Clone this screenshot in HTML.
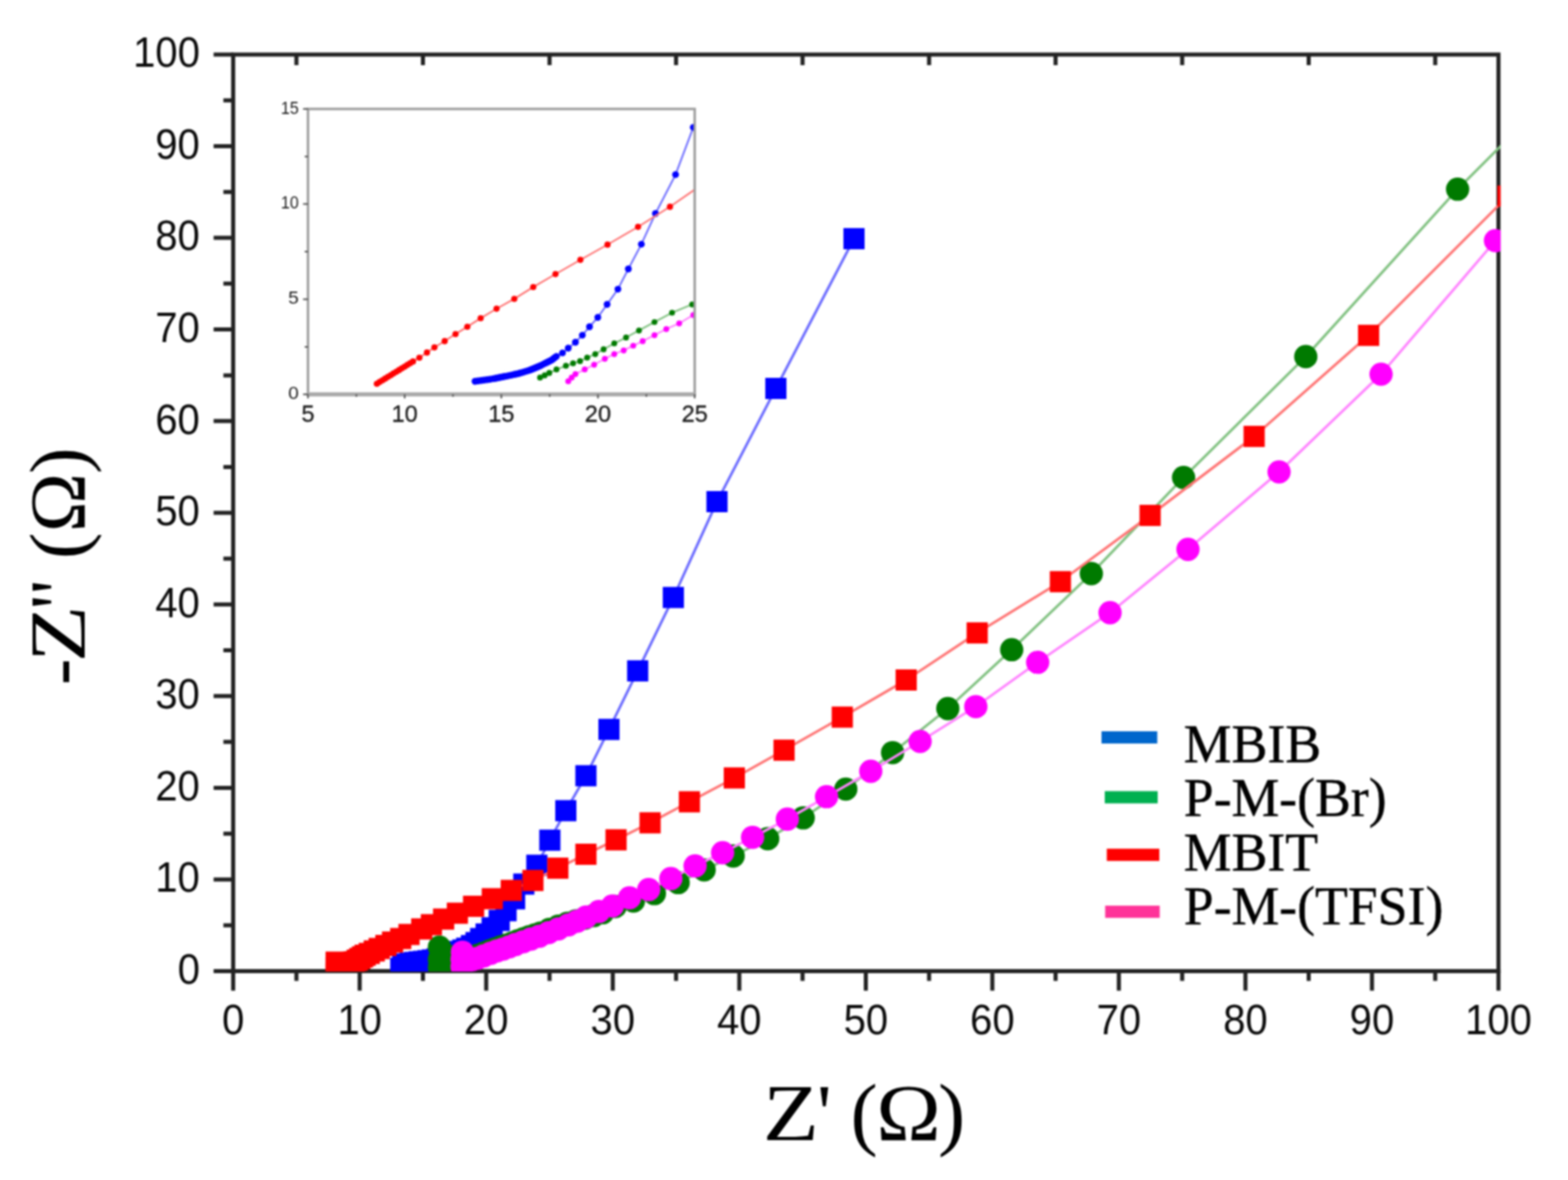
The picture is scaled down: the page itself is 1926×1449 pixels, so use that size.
<!DOCTYPE html>
<html><head><meta charset="utf-8"><title>Nyquist plot</title>
<style>
html,body{margin:0;padding:0;background:#fff;}
body{width:1926px;height:1449px;overflow:hidden;}
svg{display:block;filter:blur(1.25px);}
.tk{font-family:"Liberation Sans",Arial,sans-serif;fill:#0a0a0a;}
.ser{font-family:"Liberation Serif","Times New Roman",serif;fill:#000;}
.itk{font-family:"Liberation Sans",Arial,sans-serif;fill:#1c1c1c;}
</style></head><body>
<svg width="1926" height="1449" viewBox="0 0 1926 1449">
<defs>
<clipPath id="cm"><rect x="286.4" y="66.9" width="1556.8" height="1126.2"/></clipPath>
<clipPath id="ci"><rect x="378.3" y="133.8" width="475" height="350.6"/></clipPath>
</defs>
<rect width="1926" height="1449" fill="#fff"/>
<g stroke="#222222" stroke-width="5.0" fill="none" stroke-linecap="butt"><path d="M283.9 66.9H1840.6V1195"/><path d="M286.4 66.9V1192.5H1843.1"/><path d="M286.4 1192.5V1216.5M364.1 1192.5V1204.5M441.8 1192.5V1216.5M519.5 1192.5V1204.5M597.2 1192.5V1216.5M675 1192.5V1204.5M752.7 1192.5V1216.5M830.4 1192.5V1204.5M908.1 1192.5V1216.5M985.8 1192.5V1204.5M1063.5 1192.5V1216.5M1141.2 1192.5V1204.5M1218.9 1192.5V1216.5M1296.6 1192.5V1204.5M1374.3 1192.5V1216.5M1452.1 1192.5V1204.5M1529.8 1192.5V1216.5M1607.5 1192.5V1204.5M1685.2 1192.5V1216.5M1762.9 1192.5V1204.5M1840.6 1192.5V1216.5M286.4 1192.5H262.4M286.4 1136.2H274.4M286.4 1079.9H262.4M286.4 1023.7H274.4M286.4 967.4H262.4M286.4 911.1H274.4M286.4 854.8H262.4M286.4 798.5H274.4M286.4 742.3H262.4M286.4 686H274.4M286.4 629.7H262.4M286.4 573.4H274.4M286.4 517.1H262.4M286.4 460.9H274.4M286.4 404.6H262.4M286.4 348.3H274.4M286.4 292H262.4M286.4 235.7H274.4M286.4 179.5H262.4M286.4 123.2H274.4M286.4 66.9H262.4M364.1 66.9V79.9M519.5 66.9V79.9M675 66.9V79.9M830.4 66.9V79.9M985.8 66.9V79.9M1141.2 66.9V79.9M1296.6 66.9V79.9M1452.1 66.9V79.9M1607.5 66.9V79.9M1762.9 66.9V79.9"/></g><g clip-path="url(#cm)"><polyline points="492.3,1189.1 494.7,1185.5 498.5,1183.7 504,1182.6 509.4,1181.8 514.9,1181.1 520.3,1180.5 525.7,1179.7 531.2,1178.8 536.6,1177.6 542.1,1176.3 547.5,1174.7 552.9,1172.9 558.4,1170.8 563.8,1168.4 568.6,1166.6 573.3,1164.4 579.1,1161.2 584.7,1157.5 590.4,1152.5 597.1,1146.9 604.5,1139.3 613.2,1130.3 621.6,1118.3 632.1,1103.7 643.4,1085.6 659.4,1062.5 675.4,1031.7 695,995.5 719.7,952.6 748,895.7 783.3,823.8 827.1,733.7 880.7,616 953,477 1049,293.1" fill="none" stroke="#6b6bff" stroke-width="3.2" stroke-linejoin="round"/><g fill="#0000ff"><rect x="479.3" y="1176.1" width="26" height="26"/><rect x="481.7" y="1172.5" width="26" height="26"/><rect x="485.5" y="1170.7" width="26" height="26"/><rect x="491" y="1169.6" width="26" height="26"/><rect x="496.4" y="1168.8" width="26" height="26"/><rect x="501.9" y="1168.1" width="26" height="26"/><rect x="507.3" y="1167.5" width="26" height="26"/><rect x="512.7" y="1166.7" width="26" height="26"/><rect x="518.2" y="1165.8" width="26" height="26"/><rect x="523.6" y="1164.6" width="26" height="26"/><rect x="529.1" y="1163.3" width="26" height="26"/><rect x="534.5" y="1161.7" width="26" height="26"/><rect x="539.9" y="1159.9" width="26" height="26"/><rect x="545.4" y="1157.8" width="26" height="26"/><rect x="550.8" y="1155.4" width="26" height="26"/><rect x="555.6" y="1153.6" width="26" height="26"/><rect x="560.3" y="1151.4" width="26" height="26"/><rect x="566.1" y="1148.2" width="26" height="26"/><rect x="571.7" y="1144.5" width="26" height="26"/><rect x="577.4" y="1139.5" width="26" height="26"/><rect x="584.1" y="1133.9" width="26" height="26"/><rect x="591.5" y="1126.3" width="26" height="26"/><rect x="600.2" y="1117.3" width="26" height="26"/><rect x="608.6" y="1105.3" width="26" height="26"/><rect x="619.1" y="1090.7" width="26" height="26"/><rect x="630.4" y="1072.6" width="26" height="26"/><rect x="646.4" y="1049.5" width="26" height="26"/><rect x="662.4" y="1018.7" width="26" height="26"/><rect x="682" y="982.5" width="26" height="26"/><rect x="706.7" y="939.6" width="26" height="26"/><rect x="735" y="882.7" width="26" height="26"/><rect x="770.3" y="810.8" width="26" height="26"/><rect x="814.1" y="720.7" width="26" height="26"/><rect x="867.7" y="603" width="26" height="26"/><rect x="940" y="464" width="26" height="26"/><rect x="1036" y="280.1" width="26" height="26"/></g><polyline points="539.7,1198.1 539.7,1188 539.7,1177.9 539.7,1163 546.7,1172.8 552.2,1175.1 559.2,1174.5 566.2,1174 573.1,1173.5 580.1,1175.1 587.1,1173.1 594.1,1170.6 601.1,1167.8 608.1,1165.2 615.1,1162.9 622.1,1160.6 629.1,1158 636.1,1155.4 643.1,1152.9 650.1,1150.4 657.1,1148.1 664.1,1145.7 674.9,1141.4 685.8,1137.3 696.7,1133.8 707.6,1130.9 718.5,1127.5 729.3,1124.3 740.2,1120.8 755.8,1113.1 778.1,1106.5 803.8,1097.3 833,1083.8 864.9,1068.2 900.6,1051.1 943,1029.9 986.6,1004.3 1038.9,969 1096.4,924.2 1164.2,870.1 1242.7,797.8 1340.5,704.4 1453.8,586.3 1603.9,437.9 1790.4,232.3 1902.8,119.8" fill="none" stroke="#82c282" stroke-width="3.2" stroke-linejoin="round"/><g fill="#007a00"><circle cx="539.7" cy="1198.1" r="14.3"/><circle cx="539.7" cy="1188" r="14.3"/><circle cx="539.7" cy="1177.9" r="14.3"/><circle cx="539.7" cy="1163" r="14.3"/><circle cx="546.7" cy="1172.8" r="14.3"/><circle cx="552.2" cy="1175.1" r="14.3"/><circle cx="559.2" cy="1174.5" r="14.3"/><circle cx="566.2" cy="1174" r="14.3"/><circle cx="573.1" cy="1173.5" r="14.3"/><circle cx="580.1" cy="1175.1" r="14.3"/><circle cx="587.1" cy="1173.1" r="14.3"/><circle cx="594.1" cy="1170.6" r="14.3"/><circle cx="601.1" cy="1167.8" r="14.3"/><circle cx="608.1" cy="1165.2" r="14.3"/><circle cx="615.1" cy="1162.9" r="14.3"/><circle cx="622.1" cy="1160.6" r="14.3"/><circle cx="629.1" cy="1158" r="14.3"/><circle cx="636.1" cy="1155.4" r="14.3"/><circle cx="643.1" cy="1152.9" r="14.3"/><circle cx="650.1" cy="1150.4" r="14.3"/><circle cx="657.1" cy="1148.1" r="14.3"/><circle cx="664.1" cy="1145.7" r="14.3"/><circle cx="674.9" cy="1141.4" r="14.3"/><circle cx="685.8" cy="1137.3" r="14.3"/><circle cx="696.7" cy="1133.8" r="14.3"/><circle cx="707.6" cy="1130.9" r="14.3"/><circle cx="718.5" cy="1127.5" r="14.3"/><circle cx="729.3" cy="1124.3" r="14.3"/><circle cx="740.2" cy="1120.8" r="14.3"/><circle cx="755.8" cy="1113.1" r="14.3"/><circle cx="778.1" cy="1106.5" r="14.3"/><circle cx="803.8" cy="1097.3" r="14.3"/><circle cx="833" cy="1083.8" r="14.3"/><circle cx="864.9" cy="1068.2" r="14.3"/><circle cx="900.6" cy="1051.1" r="14.3"/><circle cx="943" cy="1029.9" r="14.3"/><circle cx="986.6" cy="1004.3" r="14.3"/><circle cx="1038.9" cy="969" r="14.3"/><circle cx="1096.4" cy="924.2" r="14.3"/><circle cx="1164.2" cy="870.1" r="14.3"/><circle cx="1242.7" cy="797.8" r="14.3"/><circle cx="1340.5" cy="704.4" r="14.3"/><circle cx="1453.8" cy="586.3" r="14.3"/><circle cx="1603.9" cy="437.9" r="14.3"/><circle cx="1790.4" cy="232.3" r="14.3"/></g><polyline points="412.9,1195.9 412.9,1188.6 412.9,1181.5 417.7,1185.7 420.7,1185 423.7,1184.2 426.7,1183.4 429.6,1182.6 432.6,1181.8 435.6,1181 438.8,1179 442.1,1177 445.3,1175 448.5,1173 453.6,1170.8 459.7,1167.7 465.8,1164.7 474,1161 482.2,1156.8 492.2,1152.5 502.4,1147.5 518,1140.7 529.9,1135.5 544.9,1128.6 561.8,1121.4 581.7,1112.9 604.7,1103.6 628,1093.4 654.6,1081.2 685.2,1066.1 719.7,1049 756.7,1031.3 798.5,1010.4 846.8,984.6 902,955.3 963.1,921.2 1034.6,880.6 1113.1,835 1200.3,777.2 1302.5,714.3 1412.7,632.9 1540.5,535.9 1681.1,411.8 1852.3,240.8" fill="none" stroke="#ff7575" stroke-width="3.2" stroke-linejoin="round"/><g fill="#ff0000"><rect x="399.9" y="1182.9" width="26" height="26"/><rect x="399.9" y="1175.6" width="26" height="26"/><rect x="399.9" y="1168.5" width="26" height="26"/><rect x="404.7" y="1172.7" width="26" height="26"/><rect x="407.7" y="1172" width="26" height="26"/><rect x="410.7" y="1171.2" width="26" height="26"/><rect x="413.7" y="1170.4" width="26" height="26"/><rect x="416.6" y="1169.6" width="26" height="26"/><rect x="419.6" y="1168.8" width="26" height="26"/><rect x="422.6" y="1168" width="26" height="26"/><rect x="425.8" y="1166" width="26" height="26"/><rect x="429.1" y="1164" width="26" height="26"/><rect x="432.3" y="1162" width="26" height="26"/><rect x="435.5" y="1160" width="26" height="26"/><rect x="440.6" y="1157.8" width="26" height="26"/><rect x="446.7" y="1154.7" width="26" height="26"/><rect x="452.8" y="1151.7" width="26" height="26"/><rect x="461" y="1148" width="26" height="26"/><rect x="469.2" y="1143.8" width="26" height="26"/><rect x="479.2" y="1139.5" width="26" height="26"/><rect x="489.4" y="1134.5" width="26" height="26"/><rect x="505" y="1127.7" width="26" height="26"/><rect x="516.9" y="1122.5" width="26" height="26"/><rect x="531.9" y="1115.6" width="26" height="26"/><rect x="548.8" y="1108.4" width="26" height="26"/><rect x="568.7" y="1099.9" width="26" height="26"/><rect x="591.7" y="1090.6" width="26" height="26"/><rect x="615" y="1080.4" width="26" height="26"/><rect x="641.6" y="1068.2" width="26" height="26"/><rect x="672.2" y="1053.1" width="26" height="26"/><rect x="706.7" y="1036" width="26" height="26"/><rect x="743.7" y="1018.3" width="26" height="26"/><rect x="785.5" y="997.4" width="26" height="26"/><rect x="833.8" y="971.6" width="26" height="26"/><rect x="889" y="942.3" width="26" height="26"/><rect x="950.1" y="908.2" width="26" height="26"/><rect x="1021.6" y="867.6" width="26" height="26"/><rect x="1100.1" y="822" width="26" height="26"/><rect x="1187.3" y="764.2" width="26" height="26"/><rect x="1289.5" y="701.3" width="26" height="26"/><rect x="1399.7" y="619.9" width="26" height="26"/><rect x="1527.5" y="522.9" width="26" height="26"/><rect x="1668.1" y="398.8" width="26" height="26"/><rect x="1839.3" y="227.8" width="26" height="26"/></g><polyline points="567.6,1198.1 567.6,1186.9 567.6,1177.9 568,1169.2 573.9,1179 580.1,1178.4 586.5,1176.7 594.1,1173.9 602.7,1170.6 610.3,1167.7 617.9,1165.5 625.5,1162.7 633.1,1159.9 642.6,1156.5 652.1,1153.1 662.5,1149.7 673.9,1145.2 685.8,1140.7 698.3,1135.7 709.1,1131.2 720,1126.1 735.6,1119.3 752.2,1112.5 773.2,1102.5 796.8,1092.3 824,1078.8 853.8,1063.3 887.6,1047.1 924.4,1028.2 967.1,1005.9 1015.3,978.3 1069.6,947.1 1130.2,910.5 1198.6,867.7 1274.6,813.3 1363.5,752.4 1459.2,674.6 1571.1,579.5 1696.4,459.5 1836.9,295.5" fill="none" stroke="#ff85ff" stroke-width="3.2" stroke-linejoin="round"/><g fill="#ff00ff"><circle cx="567.6" cy="1198.1" r="14.3"/><circle cx="567.6" cy="1186.9" r="14.3"/><circle cx="567.6" cy="1177.9" r="14.3"/><circle cx="568" cy="1169.2" r="14.3"/><circle cx="573.9" cy="1179" r="14.3"/><circle cx="580.1" cy="1178.4" r="14.3"/><circle cx="586.5" cy="1176.7" r="14.3"/><circle cx="594.1" cy="1173.9" r="14.3"/><circle cx="602.7" cy="1170.6" r="14.3"/><circle cx="610.3" cy="1167.7" r="14.3"/><circle cx="617.9" cy="1165.5" r="14.3"/><circle cx="625.5" cy="1162.7" r="14.3"/><circle cx="633.1" cy="1159.9" r="14.3"/><circle cx="642.6" cy="1156.5" r="14.3"/><circle cx="652.1" cy="1153.1" r="14.3"/><circle cx="662.5" cy="1149.7" r="14.3"/><circle cx="673.9" cy="1145.2" r="14.3"/><circle cx="685.8" cy="1140.7" r="14.3"/><circle cx="698.3" cy="1135.7" r="14.3"/><circle cx="709.1" cy="1131.2" r="14.3"/><circle cx="720" cy="1126.1" r="14.3"/><circle cx="735.6" cy="1119.3" r="14.3"/><circle cx="752.2" cy="1112.5" r="14.3"/><circle cx="773.2" cy="1102.5" r="14.3"/><circle cx="796.8" cy="1092.3" r="14.3"/><circle cx="824" cy="1078.8" r="14.3"/><circle cx="853.8" cy="1063.3" r="14.3"/><circle cx="887.6" cy="1047.1" r="14.3"/><circle cx="924.4" cy="1028.2" r="14.3"/><circle cx="967.1" cy="1005.9" r="14.3"/><circle cx="1015.3" cy="978.3" r="14.3"/><circle cx="1069.6" cy="947.1" r="14.3"/><circle cx="1130.2" cy="910.5" r="14.3"/><circle cx="1198.6" cy="867.7" r="14.3"/><circle cx="1274.6" cy="813.3" r="14.3"/><circle cx="1363.5" cy="752.4" r="14.3"/><circle cx="1459.2" cy="674.6" r="14.3"/><circle cx="1571.1" cy="579.5" r="14.3"/><circle cx="1696.4" cy="459.5" r="14.3"/><circle cx="1836.9" cy="295.5" r="14.3"/></g></g><g class="tk" font-size="51" text-anchor="middle"><text transform="translate(286.4 1269.8) scale(0.965 1)">0</text><text transform="translate(441.8 1269.8) scale(0.965 1)">10</text><text transform="translate(597.2 1269.8) scale(0.965 1)">20</text><text transform="translate(752.7 1269.8) scale(0.965 1)">30</text><text transform="translate(908.1 1269.8) scale(0.965 1)">40</text><text transform="translate(1063.5 1269.8) scale(0.965 1)">50</text><text transform="translate(1218.9 1269.8) scale(0.965 1)">60</text><text transform="translate(1374.3 1269.8) scale(0.965 1)">70</text><text transform="translate(1529.8 1269.8) scale(0.965 1)">80</text><text transform="translate(1685.2 1269.8) scale(0.965 1)">90</text><text transform="translate(1840.6 1269.8) scale(0.965 1)">100</text></g><g class="tk" font-size="51" text-anchor="end"><text transform="translate(245.5 1207.9) scale(0.965 1)">0</text><text transform="translate(245.5 1095.3) scale(0.965 1)">10</text><text transform="translate(245.5 982.8) scale(0.965 1)">20</text><text transform="translate(245.5 870.2) scale(0.965 1)">30</text><text transform="translate(245.5 757.7) scale(0.965 1)">40</text><text transform="translate(245.5 645.1) scale(0.965 1)">50</text><text transform="translate(245.5 532.5) scale(0.965 1)">60</text><text transform="translate(245.5 420) scale(0.965 1)">70</text><text transform="translate(245.5 307.4) scale(0.965 1)">80</text><text transform="translate(245.5 194.9) scale(0.965 1)">90</text><text transform="translate(245.5 82.3) scale(0.965 1)">100</text></g><g class="ser" font-size="100"><text transform="translate(937 1400.4) scale(1.128 1)">Z</text><text x="1003.5" y="1400.4">'</text><text x="1044.7" y="1400.4">(</text><text transform="translate(1076.2 1400.4) scale(1.07 1)">&#937;</text><text x="1152.3" y="1400.4">)</text></g><g class="ser" font-size="98" transform="translate(104.2 841.2) rotate(-90)"><text x="0" y="0">-</text><text transform="translate(27.9 0) scale(1.167 1)">Z</text><text x="91.1" y="0">&quot;</text><text x="154.8" y="0">(</text><text x="187.8" y="0">&#937;</text><text x="259.1" y="0">)</text></g><rect x="1353" y="898" width="68.5" height="15" fill="#0066cc"/><text class="ser" font-size="66" stroke="#000" stroke-width="0.5" transform="translate(1454 935.6) scale(1 1.035)">MBIB</text><rect x="1357" y="971.5" width="65" height="15" fill="#00b050"/><text class="ser" font-size="66" stroke="#000" stroke-width="0.5" transform="translate(1454 1001.5) scale(1 1.035)">P-M-(Br)</text><rect x="1359.5" y="1042.2" width="64.5" height="15" fill="#ff0000"/><text class="ser" font-size="66" stroke="#000" stroke-width="0.5" transform="translate(1454 1068.6) scale(1 1.035)">MBIT</text><rect x="1357.5" y="1112.1" width="67" height="15" fill="#ff3399"/><text class="ser" font-size="66" stroke="#000" stroke-width="0.5" transform="translate(1454 1134.5) scale(1 1.035)">P-M-(TFSI)</text><g clip-path="url(#ci)"><polyline points="583.5,468.2 587.1,467.7 590.8,467.2 594.4,466.8 598.1,466.2 601.7,465.7 605.4,465.1 607.7,464.7 610.1,464.2 612.5,463.7 614.9,463.3 617.4,462.8 619.8,462.3 622.2,461.9 624.6,461.4 627,460.9 629.4,460.4 631.9,459.8 634.3,459.3 636.7,458.7 639.1,458 641.5,457.4 643.9,456.6 646.4,455.9 648.8,455.1 651.3,454.2 653.7,453.2 656.2,452.3 658.5,451.3 660.9,450.3 663.3,449.2 665.7,448.1 668,446.9 670.4,445.7 672.9,444.5 675.3,443.2 677.8,442 679.7,440.5 681.6,439 683.5,437.6 690.9,433.4 698,427.5 706.8,420.3 715.3,411.6 724.1,401.3 734.3,389.7 745.7,373.8 759,355.1 771.8,330.3 787.8,299.9 805.1,262.3 829.8,214.4 851.6,156.4 883.9,75.3" fill="none" stroke="#6b6bff" stroke-width="2.2" stroke-linejoin="round"/><g fill="#0000ff"><circle cx="583.5" cy="468.2" r="4.2"/><circle cx="587.1" cy="467.7" r="4.2"/><circle cx="590.8" cy="467.2" r="4.2"/><circle cx="594.4" cy="466.8" r="4.2"/><circle cx="598.1" cy="466.2" r="4.2"/><circle cx="601.7" cy="465.7" r="4.2"/><circle cx="605.4" cy="465.1" r="4.2"/><circle cx="607.7" cy="464.7" r="4.2"/><circle cx="610.1" cy="464.2" r="4.2"/><circle cx="612.5" cy="463.7" r="4.2"/><circle cx="614.9" cy="463.3" r="4.2"/><circle cx="617.4" cy="462.8" r="4.2"/><circle cx="619.8" cy="462.3" r="4.2"/><circle cx="622.2" cy="461.9" r="4.2"/><circle cx="624.6" cy="461.4" r="4.2"/><circle cx="627" cy="460.9" r="4.2"/><circle cx="629.4" cy="460.4" r="4.2"/><circle cx="631.9" cy="459.8" r="4.2"/><circle cx="634.3" cy="459.3" r="4.2"/><circle cx="636.7" cy="458.7" r="4.2"/><circle cx="639.1" cy="458" r="4.2"/><circle cx="641.5" cy="457.4" r="4.2"/><circle cx="643.9" cy="456.6" r="4.2"/><circle cx="646.4" cy="455.9" r="4.2"/><circle cx="648.8" cy="455.1" r="4.2"/><circle cx="651.3" cy="454.2" r="4.2"/><circle cx="653.7" cy="453.2" r="4.2"/><circle cx="656.2" cy="452.3" r="4.2"/><circle cx="658.5" cy="451.3" r="4.2"/><circle cx="660.9" cy="450.3" r="4.2"/><circle cx="663.3" cy="449.2" r="4.2"/><circle cx="665.7" cy="448.1" r="4.2"/><circle cx="668" cy="446.9" r="4.2"/><circle cx="670.4" cy="445.7" r="4.2"/><circle cx="672.9" cy="444.5" r="4.2"/><circle cx="675.3" cy="443.2" r="4.2"/><circle cx="677.8" cy="442" r="4.2"/><circle cx="679.7" cy="440.5" r="4.2"/><circle cx="681.6" cy="439" r="4.2"/><circle cx="683.5" cy="437.6" r="4.2"/><circle cx="690.9" cy="433.4" r="4.2"/><circle cx="698" cy="427.5" r="4.2"/><circle cx="706.8" cy="420.3" r="4.2"/><circle cx="715.3" cy="411.6" r="4.2"/><circle cx="724.1" cy="401.3" r="4.2"/><circle cx="734.3" cy="389.7" r="4.2"/><circle cx="745.7" cy="373.8" r="4.2"/><circle cx="759" cy="355.1" r="4.2"/><circle cx="771.8" cy="330.3" r="4.2"/><circle cx="787.8" cy="299.9" r="4.2"/><circle cx="805.1" cy="262.3" r="4.2"/><circle cx="829.8" cy="214.4" r="4.2"/><circle cx="851.6" cy="156.4" r="4.2"/><circle cx="883.9" cy="75.3" r="4.2"/></g><polyline points="663.3,463.7 669,460.9 674.7,457.9 683.5,453.7 695.1,449.2 703.9,446.2 712.5,443.4 721.2,439.2 731.2,434.8 741.4,428.9 754.5,421.7 769,414.4 784.9,405.8 803.9,395.5 825.5,384 850.2,373.8 877,361.6" fill="none" stroke="#82c282" stroke-width="2.2" stroke-linejoin="round"/><g fill="#007a00"><circle cx="663.3" cy="463.7" r="3.6"/><circle cx="669" cy="460.9" r="3.6"/><circle cx="674.7" cy="457.9" r="3.6"/><circle cx="683.5" cy="453.7" r="3.6"/><circle cx="695.1" cy="449.2" r="3.6"/><circle cx="703.9" cy="446.2" r="3.6"/><circle cx="712.5" cy="443.4" r="3.6"/><circle cx="721.2" cy="439.2" r="3.6"/><circle cx="731.2" cy="434.8" r="3.6"/><circle cx="741.4" cy="428.9" r="3.6"/><circle cx="754.5" cy="421.7" r="3.6"/><circle cx="769" cy="414.4" r="3.6"/><circle cx="784.9" cy="405.8" r="3.6"/><circle cx="803.9" cy="395.5" r="3.6"/><circle cx="825.5" cy="384" r="3.6"/><circle cx="850.2" cy="373.8" r="3.6"/><circle cx="877" cy="361.6" r="3.6"/></g><polyline points="462.9,471.2 466.3,469.1 469.7,467 473.1,464.9 476.5,462.8 479.9,460.7 483.3,458.6 486.8,456.5 490.2,454.4 493.6,452.3 497,450.2 500.4,448.1 503.8,446 507.3,443.9 515.1,439.2 524.4,432.9 533.6,426.6 546.2,418.9 559.5,410.2 574,401.3 590.4,390.8 609.9,379.1 631.7,367 655,352.5 682.3,336.6 712.9,319.1 746.2,300.4 783.7,278.6 822.9,253.9 869,221.9" fill="none" stroke="#ff7575" stroke-width="2.2" stroke-linejoin="round"/><g fill="#ff0000"><circle cx="462.9" cy="471.2" r="3.8"/><circle cx="466.3" cy="469.1" r="3.8"/><circle cx="469.7" cy="467" r="3.8"/><circle cx="473.1" cy="464.9" r="3.8"/><circle cx="476.5" cy="462.8" r="3.8"/><circle cx="479.9" cy="460.7" r="3.8"/><circle cx="483.3" cy="458.6" r="3.8"/><circle cx="486.8" cy="456.5" r="3.8"/><circle cx="490.2" cy="454.4" r="3.8"/><circle cx="493.6" cy="452.3" r="3.8"/><circle cx="497" cy="450.2" r="3.8"/><circle cx="500.4" cy="448.1" r="3.8"/><circle cx="503.8" cy="446" r="3.8"/><circle cx="507.3" cy="443.9" r="3.8"/><circle cx="515.1" cy="439.2" r="3.8"/><circle cx="524.4" cy="432.9" r="3.8"/><circle cx="533.6" cy="426.6" r="3.8"/><circle cx="546.2" cy="418.9" r="3.8"/><circle cx="559.5" cy="410.2" r="3.8"/><circle cx="574" cy="401.3" r="3.8"/><circle cx="590.4" cy="390.8" r="3.8"/><circle cx="609.9" cy="379.1" r="3.8"/><circle cx="631.7" cy="367" r="3.8"/><circle cx="655" cy="352.5" r="3.8"/><circle cx="682.3" cy="336.6" r="3.8"/><circle cx="712.9" cy="319.1" r="3.8"/><circle cx="746.2" cy="300.4" r="3.8"/><circle cx="783.7" cy="278.6" r="3.8"/><circle cx="822.9" cy="253.9" r="3.8"/><circle cx="869" cy="221.9" r="3.8"/></g><polyline points="698,468.2 702.2,463.7 706.8,459.3 718.2,453.7 729.8,447.8 742.9,440.6 754.5,434.8 766.1,430.3 777.8,424.5 789.4,418.9 803.9,411.6 818.4,404.1 834.3,397.1 851.6,386.8 877,374.5" fill="none" stroke="#ff85ff" stroke-width="2.2" stroke-linejoin="round"/><g fill="#ff00ff"><circle cx="698" cy="468.2" r="3.6"/><circle cx="702.2" cy="463.7" r="3.6"/><circle cx="706.8" cy="459.3" r="3.6"/><circle cx="718.2" cy="453.7" r="3.6"/><circle cx="729.8" cy="447.8" r="3.6"/><circle cx="742.9" cy="440.6" r="3.6"/><circle cx="754.5" cy="434.8" r="3.6"/><circle cx="766.1" cy="430.3" r="3.6"/><circle cx="777.8" cy="424.5" r="3.6"/><circle cx="789.4" cy="418.9" r="3.6"/><circle cx="803.9" cy="411.6" r="3.6"/><circle cx="818.4" cy="404.1" r="3.6"/><circle cx="834.3" cy="397.1" r="3.6"/><circle cx="851.6" cy="386.8" r="3.6"/><circle cx="877" cy="374.5" r="3.6"/></g></g><g stroke="#9c9c9c" fill="none"><rect x="378.3" y="133.8" width="475" height="350.6" stroke-width="3"/><path d="M376.8 484.3H854.8" stroke-width="5" stroke="#a8a8a8"/><path d="M378.3 484.3V489.3M437.7 484.3V487.3M497.1 484.3V489.3M556.4 484.3V487.3M615.8 484.3V489.3M675.2 484.3V487.3M734.5 484.3V489.3M793.9 484.3V487.3M853.3 484.3V489.3M378.3 484.3H372.3M378.3 425.9H374.3M378.3 367.4H372.3M378.3 309H374.3M378.3 250.6H372.3M378.3 192.2H374.3M378.3 133.8H372.3" stroke-width="2" stroke="#555"/></g><g class="itk" font-size="22" text-anchor="end"><text x="367" y="490.1" textLength="13" lengthAdjust="spacingAndGlyphs">0</text><text x="367" y="373.2" textLength="13" lengthAdjust="spacingAndGlyphs">5</text><text x="367" y="256.4" textLength="22" lengthAdjust="spacingAndGlyphs">10</text><text x="367" y="139.6" textLength="22" lengthAdjust="spacingAndGlyphs">15</text></g><g class="itk" font-size="29" text-anchor="middle" stroke="#1c1c1c" stroke-width="0.35"><text x="378.3" y="518.3">5</text><text x="497.1" y="518.3">10</text><text x="615.8" y="518.3">15</text><text x="734.5" y="518.3">20</text><text x="853.3" y="518.3">25</text></g></svg>
</body></html>
